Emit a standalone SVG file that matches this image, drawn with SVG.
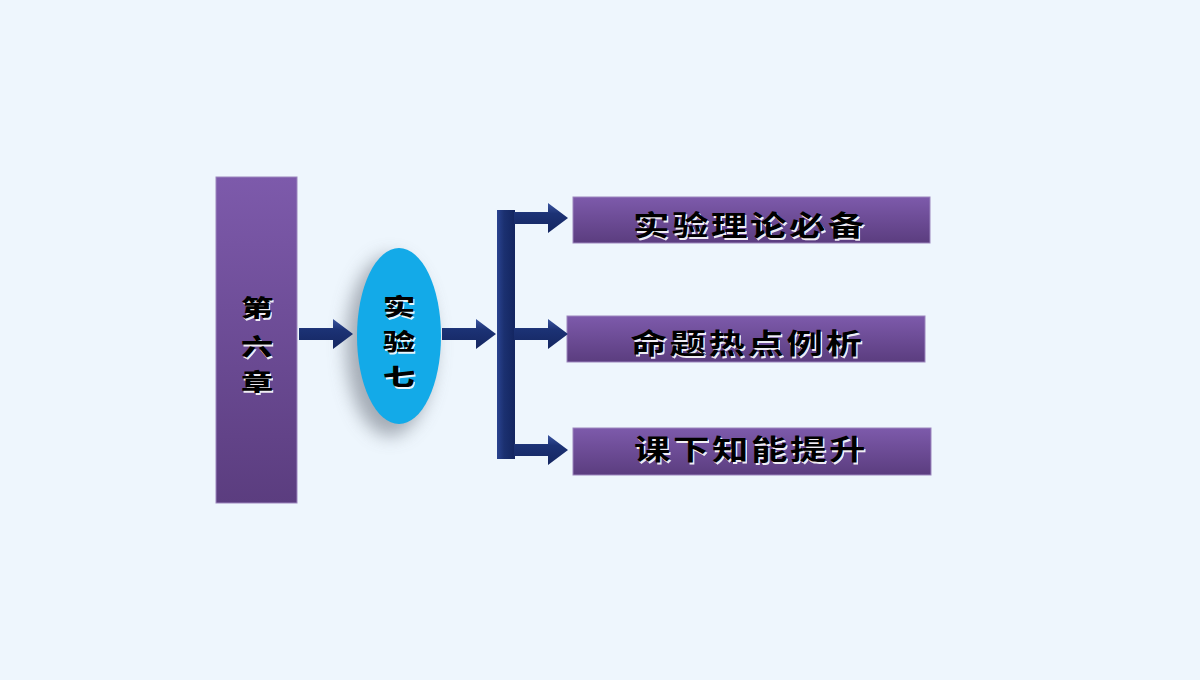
<svg xmlns="http://www.w3.org/2000/svg" width="1200" height="680" viewBox="0 0 1200 680">
<defs>
<linearGradient id="purp" x1="0" y1="0" x2="0" y2="1">
<stop offset="0" stop-color="#7D5AAB"/>
<stop offset="1" stop-color="#5B3D7F"/>
</linearGradient>
<linearGradient id="navyH" x1="0" y1="0" x2="0" y2="1">
<stop offset="0" stop-color="#3A55A0"/>
<stop offset="0.35" stop-color="#1C3275"/>
<stop offset="1" stop-color="#142660"/>
</linearGradient>
<linearGradient id="navyV" x1="0" y1="0" x2="1" y2="0">
<stop offset="0" stop-color="#2A4390"/>
<stop offset="0.4" stop-color="#1B3070"/>
<stop offset="1" stop-color="#132560"/>
</linearGradient>
<filter id="blur" x="-50%" y="-50%" width="200%" height="200%">
<feGaussianBlur stdDeviation="9"/>
</filter>
<path id="arr" d="M0,-6 L34,-6 L34,-15 L54,0 L34,15 L34,6 L0,6 Z"/>
</defs>
<style>
.t{font-family:"Noto Sans CJK SC","Noto Sans CJK TC",sans-serif;text-anchor:middle}
.sh{fill:#ffffff;opacity:0.9}
.fg{fill:#000000}
.big{font-size:28px;font-weight:600;letter-spacing:2px}
.v{font-size:23px;font-weight:900}
.box{fill:url(#purp);stroke:#9C86BE;stroke-width:1}
</style>
<rect width="1200" height="680" fill="#EEF6FD"/>

<g id="chapter">
<rect x="216" y="177" width="81" height="326" class="box"/>
<g class="t v">
<g transform="translate(257,316) scale(1.4,1)"><text x="1" y="1.5" class="sh">第</text><text class="fg">第</text></g>
<g transform="translate(257,355) scale(1.4,1)"><text x="1" y="1.5" class="sh">六</text><text class="fg">六</text></g>
<g transform="translate(257,390) scale(1.4,1)"><text x="1" y="1.5" class="sh">章</text><text class="fg">章</text></g>
</g>
</g>

<g id="experiment">
<ellipse cx="390" cy="346" rx="44" ry="90" fill="#8a929c" opacity="0.75" filter="url(#blur)"/>
<ellipse cx="399" cy="336" rx="42" ry="88" fill="#13AAE8"/>
<g class="t v">
<g transform="translate(399,315) scale(1.4,1)"><text x="1" y="1.5" class="sh">实</text><text class="fg">实</text></g>
<g transform="translate(399,350) scale(1.4,1)"><text x="1" y="1.5" class="sh">验</text><text class="fg">验</text></g>
<g transform="translate(399,385) scale(1.4,1)"><text x="1" y="1.5" class="sh">七</text><text class="fg">七</text></g>
</g>
</g>

<g id="theory">
<rect x="573" y="197" width="357" height="46" class="box"/>
<g class="t big" transform="translate(750,236) scale(1.3,1)"><text x="1.2" y="1.5" class="sh">实验理论必备</text><text class="fg">实验理论必备</text></g>
</g>
<g id="analysis">
<rect x="567" y="316" width="358" height="46" class="box"/>
<g class="t big" transform="translate(747.5,354) scale(1.3,1)"><text x="1.2" y="1.5" class="sh">命题热点例析</text><text class="fg">命题热点例析</text></g>
</g>
<g id="practice">
<rect x="573" y="428" width="358" height="47" class="box"/>
<g class="t big" transform="translate(751,460) scale(1.3,1)"><text x="1.2" y="1.5" class="sh">课下知能提升</text><text class="fg">课下知能提升</text></g>
</g>

<g id="connectors" fill="url(#navyH)">
<use href="#arr" transform="translate(299,334)"/>
<use href="#arr" transform="translate(442,334)"/>
<rect x="497" y="210" width="18" height="249" fill="url(#navyV)"/>
<use href="#arr" transform="translate(514,218)"/>
<use href="#arr" transform="translate(514,334)"/>
<use href="#arr" transform="translate(514,450)"/>
</g>
</svg>
